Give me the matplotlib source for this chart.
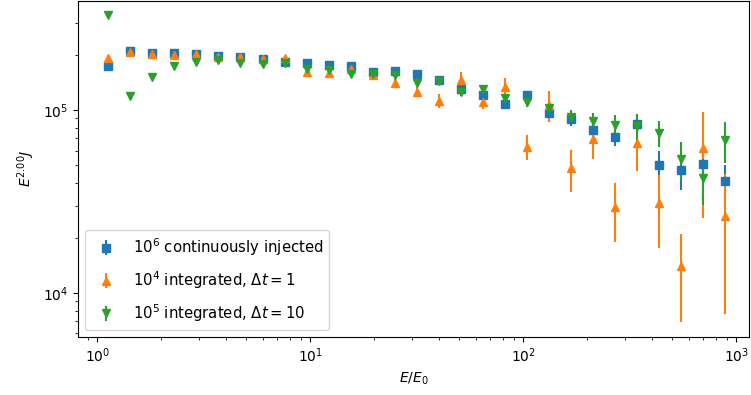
import matplotlib
matplotlib.use("Agg")
import matplotlib.pyplot as plt

# Energy bin centres E/E0
energy = [1.1265, 1.4295, 1.8138, 2.3015, 2.9204, 3.7057, 4.7022, 5.9666, 7.5710,
          9.6069, 12.190, 15.468, 19.627, 24.905, 31.623, 40.126, 50.916, 64.607,
          81.98, 104.05, 132.03, 167.53, 212.58, 269.74, 342.27, 434.32, 551.1,
          699.3, 887.4]

# 10^6 continuously injected
cont_y = [174000, 211000, 206000, 204000, 202000, 197000, 196000, 189000, 184000,
          181000, 176000, 174000, 161000, 163000, 157000, 146000, 131000, 121000,
          108000, 121000, 95900, 89300, 77700, 71400, 83800, 50000, 46700, 50600,
          41100]
cont_err = [2000, 2000, 2000, 2000, 2000, 2000, 2000, 2000, 2500, 2500, 3000, 3000,
            3000, 3500, 3500, 4000, 4500, 5000, 5500, 6000, 7000, 8000, 6000, 8000,
            6000, 9600, 10000, 9000, 9000]

# 10^4 integrated, dt = 1
int1_y = [192000, 208000, 202000, 200000, 202000, 196000, 196000, 189000, 193000,
          162000, 159000, 167000, 155000, 141000, 126000, 112000, 146000, 111000,
          134000, 63000, 106500, 48000, 69100, 29600, 66200, 31000, 13950, 61700,
          26200]
int1_err = [3000, 3000, 3000, 3500, 3500, 4000, 4000, 4500, 5000, 5500, 6000, 6500,
            7000, 7500, 8000, 10000, 16000, 10000, 15000, 10000, 20000, 12500, 15000,
            10500, 20000, 13400, 7000, 36000, 18500]

# 10^5 integrated, dt = 10
int10_y = [331000, 119000, 151000, 175000, 184000, 188000, 180000, 178000, 180000,
           167000, 166000, 157000, 157000, 155000, 141000, 144000, 126000, 131000,
           117000, 111000, 102000, 91900, 87100, 82800, 81700, 74600, 54000, 42300,
           68500]
int10_err = [5000, 3000, 3000, 3000, 3000, 3000, 3000, 3000, 3000, 3500, 3500, 4000,
             4000, 4500, 5000, 5000, 6000, 6000, 6000, 7000, 7000, 8000, 9000, 11000,
             14000, 12000, 12500, 12000, 17000]

labels = [r"$10^6$ continuously injected",
          r"$10^4$ integrated, $\Delta t = 1$",
          r"$10^5$ integrated, $\Delta t = 10$"]

fig = plt.figure(figsize=(7.51, 3.95), dpi=100)
ax = fig.add_axes([78 / 751, 1 - 337 / 395, (749 - 78) / 751, (337 - 0.5) / 395])

ax.errorbar(energy, cont_y, yerr=cont_err, fmt="s", color="C0", label=labels[0])
ax.errorbar(energy, int1_y, yerr=int1_err, fmt="^", color="C1", label=labels[1])
ax.errorbar(energy, int10_y, yerr=int10_err, fmt="v", color="C2", label=labels[2])

ax.set_xscale("log")
ax.set_yscale("log")
ax.set_xlim(0.812, 1147)
ax.set_ylim(5740, 397000)
ax.set_xlabel(r"$E/E_0$")
ax.set_ylabel(r"$E^{2.00}J$")
ax.legend(loc="lower left", fontsize=10.7, labelspacing=0.75)

fig.savefig("out.png", dpi=100)
